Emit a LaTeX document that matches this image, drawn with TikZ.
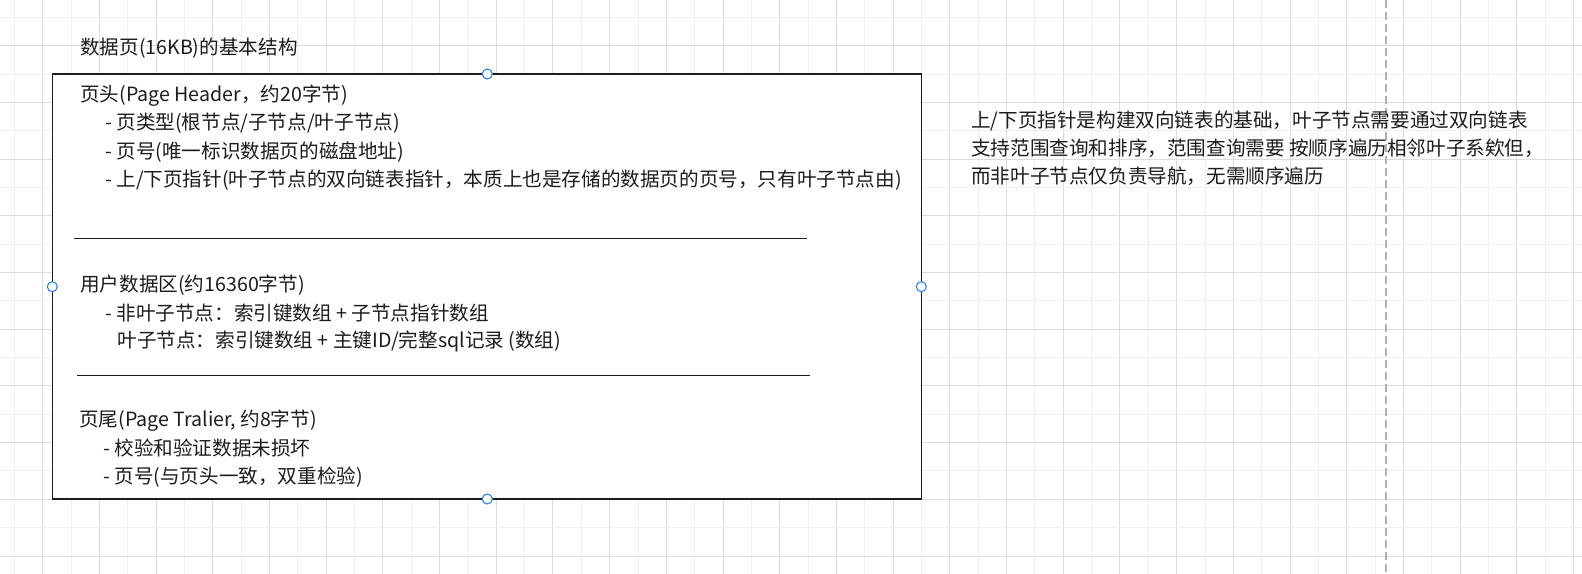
\documentclass[tikz,border=0pt]{standalone}
\usepackage{fontspec}
\setmainfont{Noto Sans CJK SC}
\definecolor{gridlight}{RGB}{240,240,240}
\definecolor{griddark}{RGB}{220,220,220}
\definecolor{handleblue}{RGB}{41,128,230}
\definecolor{inkgray}{RGB}{28,28,28}
\tikzset{
  txt/.style={anchor=base west,inner sep=0pt,text=inkgray,font=\fontsize{14.7}{17}\selectfont},
  handle/.style={draw=handleblue,fill=white,line width=0.8pt,circle,inner sep=0pt,minimum size=7.5pt}
}

\begin{document}
\begin{tikzpicture}[x=0.75pt,y=0.75pt,yscale=-1,xscale=1]
\useasboundingbox (0,0) rectangle (1582,574);
\fill[white] (0,0) rectangle (1582,574);

%Grid: light and dark lines in turn
\foreach \k in {0,...,55}{
  \pgfmathsetmacro{\gx}{14.3+28.35*\k}
  \ifodd\k \def\gc{griddark}\else \def\gc{gridlight}\fi
  \draw[\gc,line width=0.75pt] (\gx,0) -- (\gx,574);
}
\foreach \j in {0,...,19}{
  \pgfmathsetmacro{\gy}{556-28.35*\j}
  \ifodd\j \def\gc{gridlight}\else \def\gc{griddark}\fi
  \draw[\gc,line width=0.75pt] (0,\gy) -- (1582,\gy);
}

%Shape: Dashed guide
\draw[color={rgb,255:red,176;green,176;blue,176},line width=0.9pt,dash pattern=on 6pt off 3pt] (1386,0) -- (1386,574);

%Shape: Rectangle [page]
\draw[fill=white,draw=inkgray,line width=0.8pt] (52.3,74) rectangle (921.3,499);
\coordinate (hdrL) at (74.3,238.3);
\coordinate (hdrR) at (807,238.3);
\coordinate (datL) at (77.3,375.7);
\coordinate (datR) at (810,375.7);
%Straight Lines
\draw[draw=inkgray,line width=0.8pt] (hdrL) -- (hdrR);
\draw[draw=inkgray,line width=0.8pt] (datL) -- (datR);

% Text Node
\draw (80,55) node (title) [txt] {数据页(16KB)的基本结构};
% Text Node
\draw (80,101.5) node (head) [txt] {页头(Page Header，约20字节)};
\draw (105,130) node (headA) [txt] {- 页类型(根节点/子节点/叶子节点)};
\draw (105,158.5) node (headB) [txt] {- 页号(唯一标识数据页的磁盘地址)};
\draw (105,187) node (headC) [txt] {- 上/下页指针(叶子节点的双向链表指针，本质上也是存储的数据页的页号，只有叶子节点由)};
% Text Node
\draw (80,291.5) node (user) [txt] {用户数据区(约16360字节)};
\draw (105,320) node (userA) [txt] {- 非叶子节点：索引键数组 + 子节点指针数组};
\draw (117.3,347.5) node (userB) [txt] {叶子节点：索引键数组 + 主键ID/完整sql记录 (数组)};
% Text Node
\draw (79,426.5) node (tail) [txt] {页尾(Page Tralier, 约8字节)};
\draw (103,455) node (tailA) [txt] {- 校验和验证数据未损坏};
\draw (103,483) node (tailB) [txt] {- 页号(与页头一致，双重检验)};
% Text Node
\draw (971,128) node (noteA) [txt] {上/下页指针是构建双向链表的基础，叶子节点需要通过双向链表};
\draw (971,156) node (noteB) [txt] {支持范围查询和排序，范围查询需要 按顺序遍历相邻叶子系欸但，};
\draw (971,184) node (noteC) [txt] {而非叶子节点仅负责导航，无需顺序遍历};

%Selection handles
\node (hTop) [handle] at (487.3,74) {};
\node (hBot) [handle] at (487.3,499) {};
\node (hLft) [handle] at (52.3,286.7) {};
\node (hRgt) [handle] at (921.3,286.7) {};

\end{tikzpicture}
\end{document}
